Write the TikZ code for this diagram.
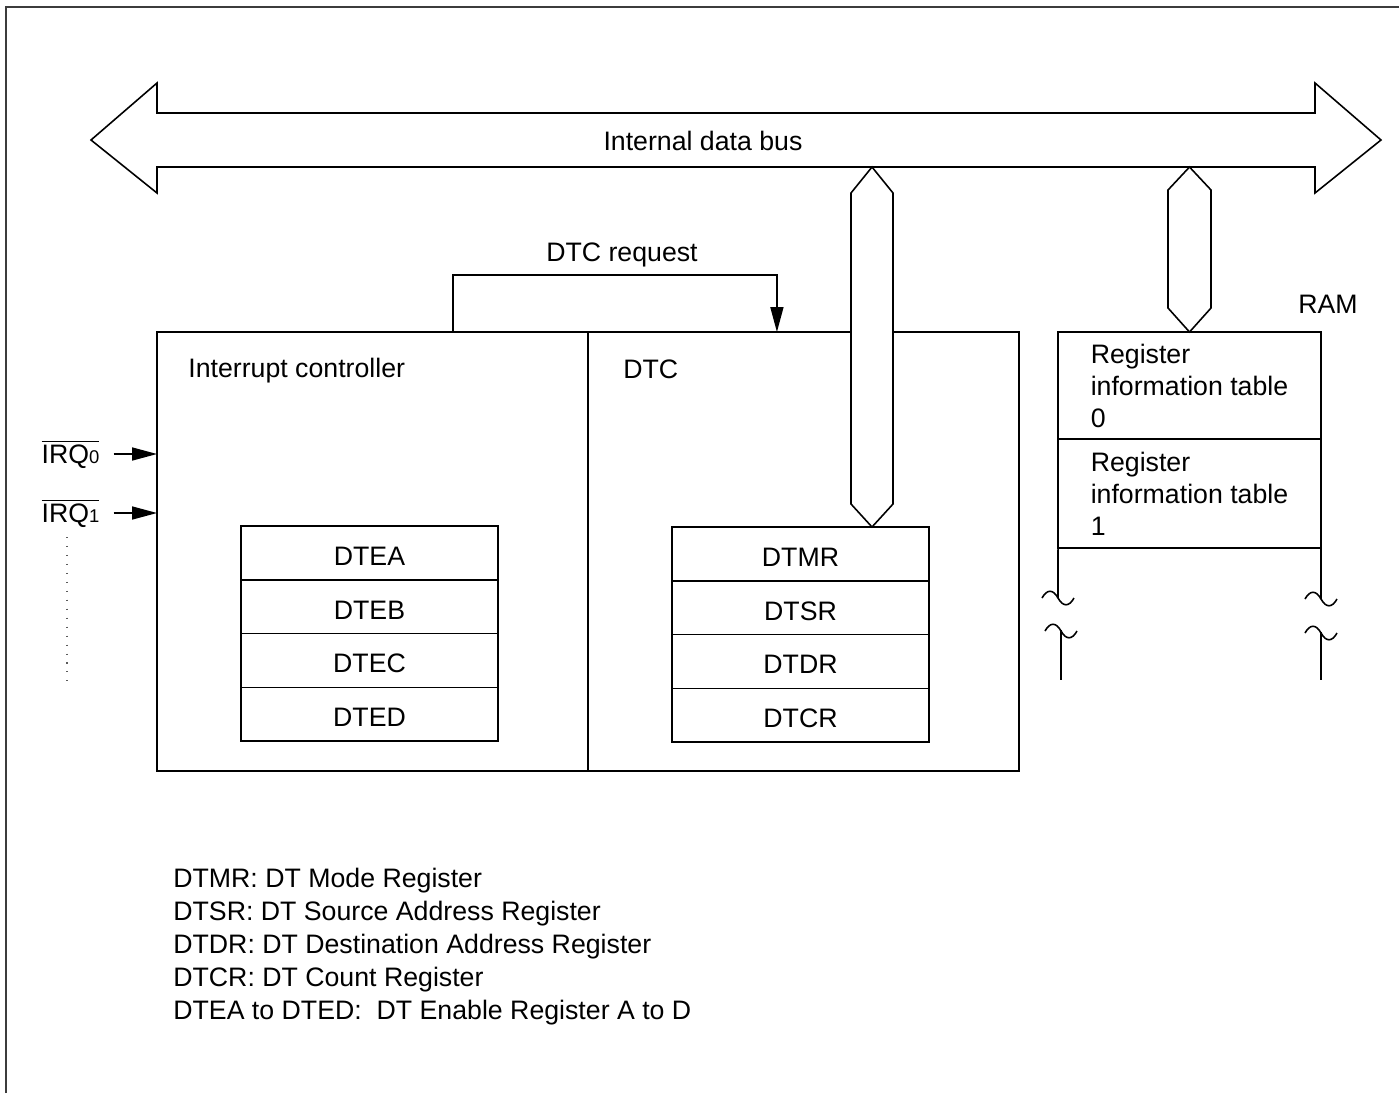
\documentclass[tikz,border=0pt]{standalone}
\usepackage{fontspec}
\setmainfont{Liberation Sans}
\usepackage{amsmath}
\usepackage{tikz}
\usetikzlibrary{arrows.meta, positioning}
\definecolor{myframe}{RGB}{60,60,60}
\definecolor{mydots}{RGB}{90,90,90}
\tikzset{
  box/.style={rectangle, draw, line width=0.9pt, inner sep=0pt, outer sep=0pt},
  ctrlbox/.style={box, minimum width=8.62cm, minimum height=8.78cm},
  regcell/.style={box, minimum width=5.14cm, minimum height=1.075cm,
    text height=0.5cm, text depth=0pt},
  ramcell/.style={box, minimum width=5.26cm, align=left},
  txt/.style={inner sep=0pt},
  arrow/.style={-{Triangle[length=0.5cm, width=0.26cm]}, line width=0.9pt},
  line/.style={line width=0.9pt},
  busline/.style={line width=0.9pt, fill=white, line join=miter},
  frameline/.style={line width=1.1pt, color=myframe}
}

\begin{document}
\begin{tikzpicture}[x=0.02cm, y=-0.02cm, font=\fontsize{15.2}{18.2}\selectfont]
  \useasboundingbox (0,0) rectangle (1399,1093);
  \draw[frameline] (6,1093) -- (6,7) -- (1399,7);

  % Internal data bus
  \draw[busline] (91,140) -- (157,83) -- (157,113) -- (1315,113) -- (1315,83)
    -- (1381,140) -- (1315,193) -- (1315,167) -- (157,167) -- (157,193) -- cycle;
  \node[txt] (bus) at (703,141) {Internal data bus};

  % Interrupt controller and DTC
  \node[ctrlbox] (intc) at (372.5,551.5) {};
  \node[ctrlbox, right=0pt of intc] (dtc) {};
  \node[txt, anchor=west] (intclbl) at (188,371) {Interrupt controller};
  \node[txt, anchor=west] (dtclbl) at (623,369) {DTC};

  % DTC request
  \node[txt] (req) at (622,255) {DTC request};
  \draw[arrow] ([xshift=1.61cm]intc.north) -- ++(0,-57) -| ([xshift=-0.53cm]dtc.north);

  % Enable registers
  \node[regcell] (dtea) at (369.5,553) {DTEA};
  \node[regcell, below=0pt of dtea] (dteb) {DTEB};
  \node[regcell, below=0pt of dteb] (dtec) {DTEC};
  \node[regcell, below=0pt of dtec] (dted) {DTED};

  % DTC registers
  \node[regcell] (dtmr) at (800.5,554) {DTMR};
  \node[regcell, below=0pt of dtmr] (dtsr) {DTSR};
  \node[regcell, below=0pt of dtsr] (dtdr) {DTDR};
  \node[regcell, below=0pt of dtdr] (dtcr) {DTCR};

  % bus to DTC
  \draw[busline] (872,167) -- (893,193) -- (893,504) -- (872,527)
    -- (851,504) -- (851,193) -- cycle;

  % RAM
  \node[ramcell, minimum height=2.14cm] (ram0) at (1189.5,385.5) {Register\\information table\\0};
  \node[ramcell, minimum height=2.18cm, below=0pt of ram0] (ram1) {Register\\information table\\1};
  \node[txt] (ramlbl) at (1328,304) {RAM};
  \draw[busline] (1189.5,167) -- (1211,190) -- (1211,308) -- (ram0.north)
    -- (1168,308) -- (1168,190) -- cycle;

  % break marks
  \draw[line] (ram1.south west) -- (1058,598);
  \draw[line] (1061,630) -- (1061,680);
  \draw[line] (ram1.south east) -- (1321,599);
  \draw[line] (1321,632) -- (1321,680);
  \foreach \cx/\cy in {1058/598, 1061/631, 1321/599, 1321/633}
    \draw[line] (\cx-16,\cy) .. controls (\cx-11,\cy-9) and (\cx-5,\cy-9) .. (\cx,\cy)
      .. controls (\cx+5,\cy+9) and (\cx+11,\cy+9) .. (\cx+16,\cy);

  % IRQ inputs
  \node[txt] (irq0) at (70.5,454) {$\overline{\text{IRQ{\fontsize{10.5}{12}\selectfont 0}}}$};
  \node[txt] (irq1) at (70.5,513) {$\overline{\text{IRQ{\fontsize{10.5}{12}\selectfont 1}}}$};
  \draw[arrow] ([xshift=0.28cm]irq0.east) -- (irq0.east -| intc.west);
  \draw[arrow] ([xshift=0.28cm]irq1.east) -- (irq1.east -| intc.west);
  \draw[mydots, line width=0.6pt, dash pattern=on 0.6pt off 4.5pt] (67,537) -- (67,683);

  % legend
  \node[txt, anchor=west, align=left, font=\fontsize{15.2}{18.8}\selectfont] (legend) at (173,947)
    {DTMR: DT Mode Register\\
     DTSR: DT Source Address Register\\
     DTDR: DT Destination Address Register\\
     DTCR: DT Count Register\\
     DTEA to DTED:\ \ DT Enable Register A to D};
\end{tikzpicture}
\end{document}
